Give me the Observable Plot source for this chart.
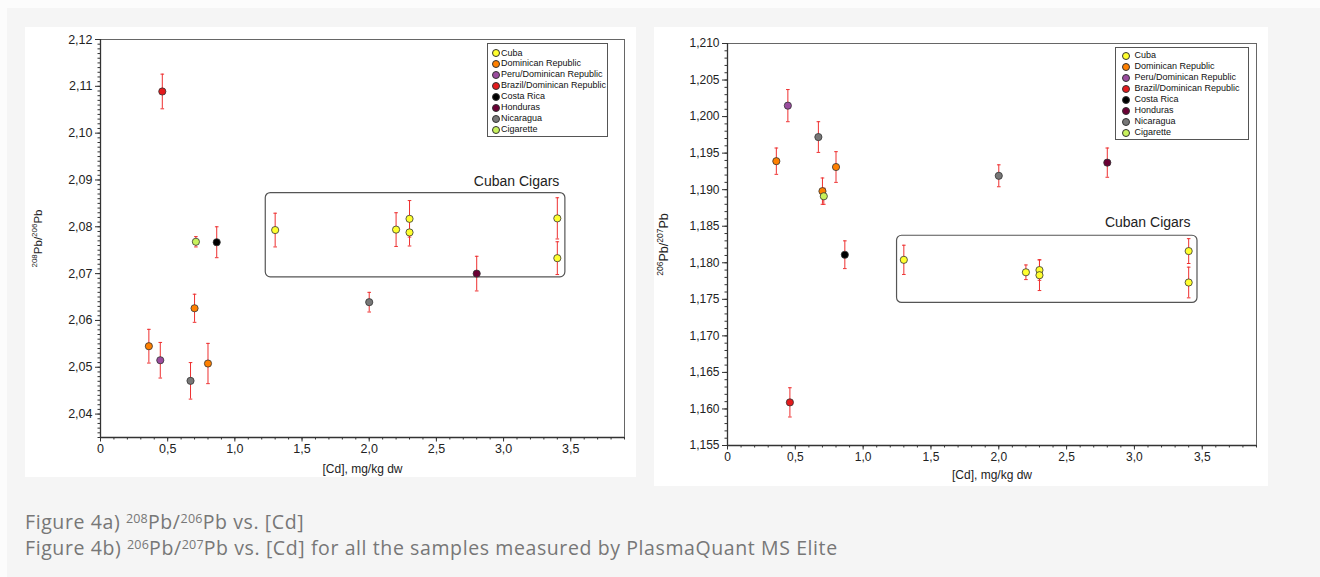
<!DOCTYPE html>
<html><head><meta charset="utf-8">
<script src="https://cdn.jsdelivr.net/npm/d3@7"></script>
<script src="https://cdn.jsdelivr.net/npm/@observablehq/plot@0.6"></script>
<style>
html,body{margin:0;padding:0;}
body{width:1320px;height:577px;background:#fcfcfc;position:relative;overflow:hidden;font-family:"Liberation Sans",Arial,sans-serif;}
#bg{position:absolute;left:7px;top:8px;right:0;bottom:0;background:#f5f5f5;}
.panel{position:absolute;background:#fff;}
.panel svg{position:absolute;left:0;top:0;overflow:visible;}
#pa{left:25px;top:27px;width:611px;height:450px;}
#pb{left:654px;top:27px;width:614px;height:459px;}
.legend{position:absolute;border:1px solid #555;background:#fff;font-size:9px;color:#111;box-sizing:border-box;}
.legend .it{position:absolute;white-space:nowrap;line-height:11px;}
.legend .sw{position:absolute;width:6px;height:6px;border-radius:50%;border:0.8px solid #333;box-sizing:content-box;}
#cap{position:absolute;left:25px;top:509px;font-family:"Open Sans",sans-serif;font-size:19.5px;letter-spacing:0.6px;color:#777;line-height:26px;white-space:nowrap;}
#cap sup{font-size:12.5px;line-height:0;vertical-align:6px;letter-spacing:0.2px;}
</style>
</head><body>
<div id="bg"></div>
<div class="panel" id="pa"></div>
<div class="panel" id="pb"></div>
<div id="cap">Figure 4a) <sup>208</sup>Pb/<sup>206</sup>Pb vs. [Cd]<br>Figure 4b) <sup>206</sup>Pb/<sup>207</sup>Pb vs. [Cd] for all the samples measured by PlasmaQuant MS Elite</div>
<script>
// ---- data ----
const countries = ["Cuba","Dominican Republic","Peru/Dominican Republic","Brazil/Dominican Republic","Costa Rica","Honduras","Nicaragua","Cigarette"];
const colors = ["#ffff2e","#ff8000","#9a4c9e","#e41a1c","#000000","#6a0034","#777777","#c8f25c"];

const origins = ["Cuba","Cuba","Cuba","Cuba","Cuba","Cuba",
  "Dominican Republic","Dominican Republic","Dominican Republic",
  "Peru/Dominican Republic","Brazil/Dominican Republic","Costa Rica","Honduras",
  "Nicaragua","Nicaragua","Cigarette"];
const cd = [1.3, 2.2, 2.3, 2.3, 3.4, 3.4, 0.36, 0.70, 0.80, 0.445, 0.46, 0.865, 2.8, 0.67, 2.0, 0.71];

const pb208_206 = [2.0793, 2.0794, 2.0817, 2.0788, 2.0818, 2.0733, 2.0545, 2.0626, 2.0508, 2.0515, 2.1089, 2.0767, 2.0700, 2.0471, 2.0639, 2.0768];
const pb208_206Err = [0.0036, 0.0036, 0.0039, 0.0029, 0.0044, 0.0035, 0.0036, 0.0030, 0.0043, 0.0038, 0.0037, 0.0033, 0.0037, 0.0039, 0.0021, 0.0011];

const pb206_207 = [1.1804, 1.1787, 1.1790, 1.1783, 1.1816, 1.1773, 1.1939, 1.1898, 1.1931, 1.2015, 1.1609, 1.1811, 1.1937, 1.1972, 1.1919, 1.1891];
const pb206_207Err = [0.0020, 0.0010, 0.0014, 0.0021, 0.0017, 0.0021, 0.0018, 0.0018, 0.0021, 0.0022, 0.0020, 0.0019, 0.0020, 0.0021, 0.0015, 0.0011];

const xDomain = [0, 3.9];
const xMajorTicks = [0, 0.5, 1.0, 1.5, 2.0, 2.5, 3.0, 3.5];
const yDomainA = [2.035, 2.12];
const yMajorTicksA = [2.04, 2.05, 2.06, 2.07, 2.08, 2.09, 2.10, 2.11, 2.12];
const yDomainB = [1.155, 1.21];
const yMajorTicksB = [1.155, 1.160, 1.165, 1.170, 1.175, 1.180, 1.185, 1.190, 1.195, 1.200, 1.205, 1.210];

const cubanBoxA = [{x1: 1.23, x2: 3.46, y1: 2.0692, y2: 2.0872, label: "Cuban Cigars"}];
const cubanBoxB = [{x1: 1.25, x2: 3.465, y1: 1.1745, y2: 1.1837, label: "Cuban Cigars"}];

const xLabel = "[Cd], mg/kg dw";
const yLabelA = "208Pb/206Pb";
const yLabelB = "206Pb/207Pb";

// ---- drawing ----
const errColor = "#ee3030";
const capSymbol = {draw(ctx, size){ const w = Math.sqrt(size/Math.PI); ctx.moveTo(-w,0); ctx.lineTo(w,0); }};
const fmtX = d => d === 0 ? "0" : d.toFixed(1).replace(".", ",");

function makeChart(o){
  const data = cd.map((x,i)=>({x, y:o.yVals[i], e:o.yErr[i], origin:origins[i]}));
  const svg = Plot.plot({
    width:o.width, height:o.height,
    marginLeft:o.ml, marginRight:o.mr, marginTop:o.mt, marginBottom:o.mb,
    style:{background:"transparent", fontFamily:"'Liberation Sans', Arial, sans-serif", fontSize:o.tickFont+"px", color:"#222", overflow:"visible"},
    x:{domain:xDomain},
    y:{domain:o.yDomain},
    color:{domain:countries, range:colors},
    marks:[
      Plot.frame({stroke:"#666", strokeWidth:1}),
      Plot.axisX({ticks:d3.ticks(xDomain[0], xDomain[1], 39), tickSize:2.5, tickFormat:()=>"", label:null, stroke:"#333"}),
      Plot.axisX({ticks:xMajorTicks, tickSize:4.5, tickPadding:2, tickFormat:fmtX, label:null, stroke:"#333", fill:"#222", fontSize:o.tickFont}),
      Plot.axisY({ticks:d3.ticks(o.yDomain[0], o.yDomain[1], o.minorCount), tickSize:2.5, tickFormat:()=>"", label:null, stroke:"#333"}),
      Plot.axisY({ticks:o.yMajor, tickSize:5, tickPadding:3, tickFormat:d=>d.toFixed(o.dec).replace(".", ","), label:null, stroke:"#333", fill:"#222", fontSize:o.tickFont}),
      Plot.ruleX([xDomain[0]], {stroke:"#333", strokeWidth:1.3}),
      Plot.ruleY([o.yDomain[0]], {stroke:"#333", strokeWidth:1.3}),
      Plot.rect(o.box, {x1:"x1", x2:"x2", y1:"y1", y2:"y2", rx:5, fill:"none", stroke:"#555", strokeWidth:1.2}),
      Plot.text(o.box, {x:"x2", y:"y2", text:"label", textAnchor:"end", dx:o.cdx, dy:o.cdy, fontSize:14, fill:"#222"}),
      Plot.ruleX(data, {x:"x", y1:d=>d.y-d.e, y2:d=>d.y+d.e, stroke:errColor, strokeWidth:1}),
      Plot.dot(data, {x:"x", y:d=>d.y-d.e, symbol:capSymbol, r:1.8, stroke:errColor, fill:"none", strokeWidth:1}),
      Plot.dot(data, {x:"x", y:d=>d.y+d.e, symbol:capSymbol, r:1.8, stroke:errColor, fill:"none", strokeWidth:1}),
      Plot.dot(data, {x:"x", y:"y", fill:"origin", stroke:"#333", strokeWidth:0.8, r:3.6}),
      Plot.text([xLabel], {frameAnchor:"bottom", dy:o.xlabDy, fontSize:12, fill:"#222", lineAnchor:"middle"}),
      Plot.text([o.ylabel], {frameAnchor:"left", textAnchor:"middle", rotate:-90, dx:o.ylabDx, dy:o.ylabDy, fontSize:o.ylabFont, fill:"#222", lineAnchor:"middle"})
    ]
  });
  // superscript isotope numbers in the y label
  svg.querySelectorAll("text").forEach(t=>{
    if (t.textContent === o.ylabel) {
      const parts = o.ylabel.match(/\d+|[^\d]+/g);
      t.innerHTML = parts.map(p => /\d/.test(p)
        ? `<tspan font-size="${o.supFont}" dy="-5">${p}</tspan>`
        : `<tspan dy="5">${p}</tspan>`).join("");
    }
  });
  return svg;
}

function makeLegend(panel, c){
  const box = document.createElement("div");
  box.className = "legend";
  Object.assign(box.style, {left:c.left+"px", top:c.top+"px", width:c.w+"px", height:c.h+"px"});
  countries.forEach((name,i)=>{
    const cy = c.first + i*c.step;
    const sw = document.createElement("span");
    sw.className = "sw";
    Object.assign(sw.style, {left:(c.cx-3.8)+"px", top:(cy-3.8)+"px", background:colors[i]});
    const tx = document.createElement("div");
    tx.className = "it";
    Object.assign(tx.style, {left:c.tx+"px", top:(cy-5.5)+"px"});
    tx.textContent = name;
    box.appendChild(sw); box.appendChild(tx);
  });
  panel.appendChild(box);
}

const pa = document.getElementById("pa");
pa.appendChild(makeChart({
  width:611, height:450, ml:75, mr:12, mt:12, mb:40,
  yDomain:yDomainA, yMajor:yMajorTicksA, dec:2, minorCount:85,
  yVals:pb208_206, yErr:pb208_206Err, box:cubanBoxA, cdx:-6, cdy:-12,
  ylabel:yLabelA, ylabDx:-62, ylabDy:0, ylabFont:11.5, supFont:8, tickFont:12.5, xlabDy:32
}));
makeLegend(pa, {left:462, top:16, w:121, h:94, first:9, step:10.9, cx:7.5, tx:13});

const pb = document.getElementById("pb");
pb.appendChild(makeChart({
  width:614, height:459, ml:73, mr:12, mt:16, mb:41,
  yDomain:yDomainB, yMajor:yMajorTicksB, dec:3, minorCount:55,
  yVals:pb206_207, yErr:pb206_207Err, box:cubanBoxB, cdx:-7, cdy:-13,
  ylabel:yLabelB, ylabDx:-64, ylabDy:0, ylabFont:12.5, supFont:8.5, tickFont:12, xlabDy:30
}));
makeLegend(pb, {left:461, top:20, w:134, h:93, first:7.5, step:11, cx:9.5, tx:18.5});
</script>
</body></html>
